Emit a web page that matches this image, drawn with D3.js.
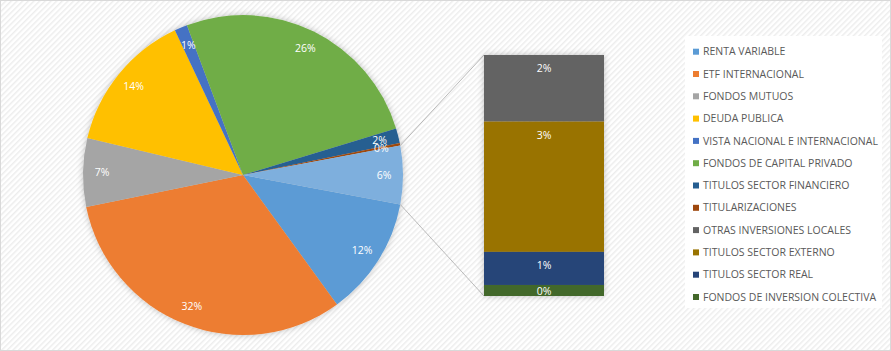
<!DOCTYPE html>
<html>
<head>
<meta charset="utf-8">
<script src="https://cdn.jsdelivr.net/npm/d3@7"></script>
<style>
  body { margin: 0; background: #fff; }
  svg { display: block; font-family: "Open Sans", sans-serif; }
</style>
</head>
<body>
<svg id="chart"></svg>
<script>
var screen = {width: 891, height: 351}

// pie slices (percent of total), last one is the "other" slice opened in the bar
var pieNames = ["RENTA VARIABLE", "ETF INTERNACIONAL", "FONDOS MUTUOS", "DEUDA PUBLICA",
                "VISTA NACIONAL E INTERNACIONAL", "FONDOS DE CAPITAL PRIVADO",
                "TITULOS SECTOR FINANCIERO", "TITULARIZACIONES"]
var pieValues = [12.06, 31.8, 6.9, 14.3, 1.3, 26.0, 1.5, 0.25]
var pieColors = ["#5B9BD5", "#ED7D31", "#A5A5A5", "#FFC000", "#4472C4", "#70AD47", "#255E91", "#9E480E"]

// bar of pie (top to bottom)
var barNames = ["OTRAS INVERSIONES LOCALES", "TITULOS SECTOR EXTERNO", "TITULOS SECTOR REAL",
                "FONDOS DE INVERSION COLECTIVA"]
var barValues = [1.63, 3.19, 0.81, 0.27]
var barColors = ["#636363", "#997300", "#264478", "#43682B"]
var otherColor = "#7EAFDD"

var svg = d3.select("#chart")
  .attr("width", screen.width)
  .attr("height", screen.height)

var defs = svg.append("defs")
var pat = defs.append("pattern")
  .attr("id", "stripes")
  .attr("width", 4).attr("height", 4)
  .attr("patternUnits", "userSpaceOnUse")
  .attr("patternTransform", "rotate(45)")
pat.append("rect").attr("width", 4).attr("height", 4).attr("fill", "#fff")
pat.append("rect").attr("width", 1.5).attr("height", 4).attr("fill", "#EDEDED")

var shadow = defs.append("filter").attr("id", "shadow")
  .attr("x", "-20%").attr("y", "-20%").attr("width", "140%").attr("height", "140%")
shadow.append("feDropShadow")
  .attr("dx", 0).attr("dy", 0).attr("stdDeviation", 3)
  .attr("flood-color", "#000").attr("flood-opacity", 0.25)

svg.append("rect")
  .attr("x", 0.5).attr("y", 0.5)
  .attr("width", screen.width - 1).attr("height", screen.height - 1)
  .attr("fill", "url(#stripes)")
  .attr("stroke", "#D9D9D9")

// ---- pie ----
var cx = 243, cy = 175, radius = 160
var otherTotal = d3.sum(barValues)
var slices = pieValues.map(function(v, i) {
  return {name: pieNames[i], value: v, color: pieColors[i]}
})
slices.push({name: "OTHER", value: otherTotal, color: otherColor})

var total = d3.sum(slices, function(d) { return d.value })
var otherAngle = otherTotal / total * 2 * Math.PI
var start = Math.PI / 2 + otherAngle / 2

var pie = d3.pie()
  .sort(null)
  .value(function(d) { return d.value })
  .startAngle(start)
  .endAngle(start + 2 * Math.PI)

var arcs = pie(slices)
var arc = d3.arc().innerRadius(0).outerRadius(radius)
var labelArc = d3.arc().innerRadius(141).outerRadius(141)

var pieG = svg.append("g")
  .attr("transform", "translate(" + cx + "," + cy + ")")

pieG.append("g")
  .attr("filter", "url(#shadow)")
  .selectAll("path")
  .data(arcs)
  .enter()
  .append("path")
  .attr("d", arc)
  .attr("fill", function(d) { return d.data.color })

pieG.selectAll("text")
  .data(arcs)
  .enter()
  .append("text")
  .attr("transform", function(d) { return "translate(" + labelArc.centroid(d) + ")" })
  .attr("text-anchor", "middle")
  .attr("dy", "0.35em")
  .attr("fill", "#fff")
  .attr("font-size", 10.5)
  .text(function(d) { return Math.round(d.data.value) + "%" })

// ---- bar ----
var bar = {x: 484, y: 55, width: 120, height: 241}
var yScale = d3.scaleLinear()
  .domain([0, otherTotal])
  .range([bar.y, bar.y + bar.height])

var stack = []
var acc = 0
barValues.forEach(function(v, i) {
  stack.push({name: barNames[i], value: v, color: barColors[i], y0: acc, y1: acc + v})
  acc += v
})

// connector lines
var otherArc = arcs[arcs.length - 1]
var a0 = otherArc.startAngle, a1 = otherArc.endAngle
svg.append("g")
  .selectAll("line")
  .data([[a0, bar.y], [a1, bar.y + bar.height]])
  .enter()
  .append("line")
  .attr("x1", function(d) { return cx + radius * Math.sin(d[0]) })
  .attr("y1", function(d) { return cy - radius * Math.cos(d[0]) })
  .attr("x2", bar.x)
  .attr("y2", function(d) { return d[1] })
  .attr("stroke", "#A6A6A6")
  .attr("stroke-width", 0.75)

var barG = svg.append("g")
barG.append("g")
  .attr("filter", "url(#shadow)")
  .selectAll("rect")
  .data(stack)
  .enter()
  .append("rect")
  .attr("x", bar.x)
  .attr("y", function(d) { return yScale(d.y0) })
  .attr("width", bar.width)
  .attr("height", function(d) { return yScale(d.y1) - yScale(d.y0) })
  .attr("fill", function(d) { return d.color })

barG.selectAll("text")
  .data(stack)
  .enter()
  .append("text")
  .attr("x", bar.x + bar.width / 2)
  .attr("y", function(d) {
    var top = yScale(d.y0), bottom = yScale(d.y1)
    return Math.min(top + 13.5, (top + bottom) / 2 + 1)
  })
  .attr("text-anchor", "middle")
  .attr("dy", "0.35em")
  .attr("fill", "#fff")
  .attr("font-size", 10.5)
  .text(function(d) { return Math.round(d.value) + "%" })

// ---- legend ----
var legendItems = slices.slice(0, slices.length - 1).concat(stack)
var legend = svg.append("g")
legend.append("rect")
  .attr("x", 685).attr("y", 36)
  .attr("width", 197).attr("height", 272)
  .attr("fill", "#fff")

var rows = legend.selectAll("g.item")
  .data(legendItems)
  .enter()
  .append("g")
  .attr("class", "item")
  .attr("transform", function(d, i) { return "translate(693," + (51.7 + i * 22.3) + ")" })

rows.append("rect")
  .attr("x", 0).attr("y", -3)
  .attr("width", 6).attr("height", 6)
  .attr("fill", function(d) { return d.color })

rows.append("text")
  .attr("x", 10)
  .attr("dy", "0.35em")
  .attr("fill", "#595959")
  .attr("font-size", 10.5)
  .text(function(d) { return d.name })
</script>
</body>
</html>
